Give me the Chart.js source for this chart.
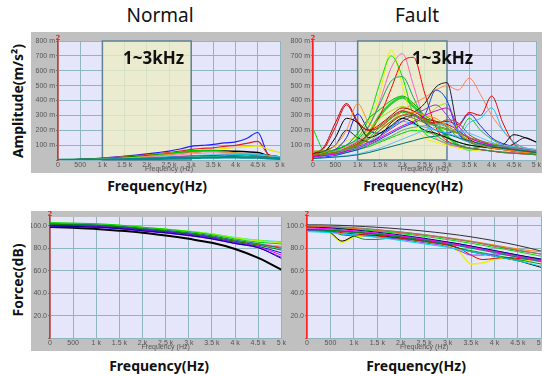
<!DOCTYPE html>
<html>
<head>
<meta charset="utf-8">
<script src="https://cdn.jsdelivr.net/npm/chart.js@4.4.0/dist/chart.umd.min.js"></script>
<style>
  html, body { margin: 0; padding: 0; background: #fff; width: 542px; height: 376px; overflow: hidden; position: relative; font-family: 'Noto Sans', sans-serif; }
  canvas { position: absolute; }
  .txt { position: absolute; white-space: nowrap; color: #111; line-height: 20px; }
  .title { font-size: 19px; transform: translateX(-50%); }
  .xlab { font-size: 14px; font-weight: bold; transform: translateX(-50%); }
  .ylab { font-size: 14px; font-weight: bold; transform: translate(-50%, -50%) rotate(-90deg); }
  .band { font-size: 17px; font-weight: bold; }
</style>
</head>
<body>
<canvas id="chartTL" width="256" height="141" style="left:31px;top:32px"></canvas>
<canvas id="chartTR" width="255" height="141" style="left:287px;top:32px"></canvas>
<canvas id="chartBL" width="256" height="140" style="left:31px;top:211px"></canvas>
<canvas id="chartBR" width="260" height="140" style="left:287px;top:211px"></canvas>

<div class="txt title" style="left:160px;top:5px">Normal</div>
<div class="txt title" style="left:417px;top:5px">Fault</div>
<div class="txt band" style="left:123px;top:48px">1~3kHz</div>
<div class="txt band" style="left:412px;top:48px">1~3kHz</div>
<div class="txt ylab" style="left:18px;top:101px">Amplitude(m/s²)</div>
<div class="txt ylab" style="left:18px;top:280px">Forcec(dB)</div>
<div class="txt xlab" style="left:157px;top:176px">Frequency(Hz)</div>
<div class="txt xlab" style="left:413px;top:176px">Frequency(Hz)</div>
<div class="txt xlab" style="left:159px;top:356px">Frequency(Hz)</div>
<div class="txt xlab" style="left:416px;top:356px">Frequency(Hz)</div>

<script>
/* EJES */
const xTickValues = [0, 500, 1000, 1500, 2000, 2500, 3000, 3500, 4000, 4500, 5000];
const xTickLabels = ['0', '500', '1 k', '1.5 k', '2 k', '2.5 k', '3 k', '3.5 k', '4 k', '4.5 k', '5 k'];
const ampTicks = [0, 100, 200, 300, 400, 500, 600, 700, 800];
const dbTicks = [0, 20, 40, 60, 80, 100];

// frecuencias de muestreo (Hz)
const freq250 = [0, 250, 500, 750, 1000, 1250, 1500, 1750, 2000, 2250, 2500, 2750, 3000, 3250, 3500, 3750, 4000, 4250, 4500, 4750, 5000];
const freq500 = [0, 500, 1000, 1500, 2000, 2500, 3000, 3500, 4000, 4500, 5000];

/* NORMAL - AMPLITUD (m/s2, en milesimas) */
const nBlue    = [0, 2, 4, 8, 13, 19, 26, 33, 41, 50, 60, 74, 92, 98, 105, 115, 122, 145, 185, 30, 18];
const nRed     = [0, 2, 4, 7, 11, 16, 22, 28, 35, 42, 50, 60, 72, 78, 82, 92, 98, 112, 125, 35, 22];
const nYellow  = [0, 1, 3, 6, 10, 14, 19, 25, 31, 38, 45, 52, 60, 66, 70, 78, 85, 90, 95, 70, 50];
const nBlack   = [0, 1, 3, 5, 8, 12, 17, 22, 28, 34, 40, 47, 55, 58, 60, 60, 58, 55, 50, 30, 20];
const nGreen   = [0, 1, 2, 4, 7, 10, 14, 19, 25, 32, 40, 50, 60, 62, 62, 55, 45, 38, 30, 22, 15];
const nOrange  = [0, 1, 2, 4, 6, 9, 13, 18, 24, 30, 37, 44, 50, 55, 56, 52, 48, 44, 40, 30, 22];
const nPink    = [0, 1, 2, 3, 5, 7, 10, 14, 19, 24, 30, 36, 42, 45, 48, 45, 42, 38, 35, 28, 20];
const nCyan    = [0, 1, 1, 2, 4, 6, 8, 11, 14, 18, 22, 26, 30, 32, 34, 35, 36, 36, 40, 30, 20];
const nMagenta = [0, 0, 1, 2, 3, 5, 7, 9, 12, 15, 18, 22, 26, 28, 30, 32, 30, 26, 24, 18, 12];
const nLime    = [0, 0, 1, 2, 3, 4, 6, 8, 10, 12, 15, 18, 20, 22, 24, 25, 24, 22, 20, 15, 10];
const nTeal    = [0, 0, 1, 1, 2, 3, 4, 5, 7, 9, 11, 13, 15, 16, 17, 18, 18, 17, 16, 12, 8];

/* FALLA - AMPLITUD */
const fYellow  = [60, 70, 90, 130, 160, 250, 450, 740, 500, 250, 150, 120, 100, 80, 70, 60, 60, 50, 50, 45, 40];
const fGreen   = [40, 50, 70, 100, 150, 280, 520, 700, 560, 300, 180, 140, 110, 90, 80, 70, 60, 55, 50, 45, 40];
const fPink    = [30, 40, 60, 90, 130, 220, 400, 620, 715, 500, 260, 150, 110, 90, 80, 70, 60, 50, 50, 45, 40];
const fRed     = [30, 40, 50, 80, 110, 180, 300, 480, 660, 690, 450, 220, 130, 100, 80, 70, 60, 50, 45, 40, 35];
const fSea     = [40, 50, 70, 100, 140, 230, 380, 530, 560, 420, 260, 170, 120, 100, 80, 70, 60, 50, 45, 40, 35];
const fSalmon  = [20, 30, 40, 60, 90, 140, 200, 260, 330, 380, 420, 470, 500, 470, 550, 440, 300, 200, 120, 80, 60];
const fBlack   = [40, 60, 100, 200, 150, 120, 160, 250, 300, 320, 380, 490, 520, 200, 130, 100, 90, 80, 110, 150, 120];
const fRed2    = [40, 80, 220, 370, 250, 200, 220, 280, 330, 300, 260, 250, 260, 240, 320, 300, 430, 250, 110, 70, 60];
const fCyan    = [20, 30, 40, 60, 80, 120, 180, 220, 260, 240, 220, 200, 180, 160, 250, 280, 350, 200, 120, 80, 60];
const fBlue    = [30, 40, 70, 150, 310, 200, 180, 220, 280, 300, 250, 200, 180, 220, 310, 230, 150, 110, 90, 70, 60];
const fLime2   = [50, 55, 60, 70, 100, 180, 300, 380, 420, 360, 280, 230, 160, 100, 70, 90, 100, 80, 60, 50, 40];
const fGreen2  = [40, 50, 70, 100, 180, 280, 340, 400, 430, 380, 300, 260, 230, 180, 130, 110, 90, 80, 70, 60, 50];
const fGreen3  = [30, 40, 50, 70, 100, 150, 220, 280, 320, 300, 260, 230, 200, 180, 280, 200, 140, 100, 80, 60, 50];
const fBlack2  = [20, 50, 150, 280, 250, 150, 180, 230, 280, 250, 200, 180, 150, 120, 100, 90, 80, 100, 170, 150, 120];
const fDarkRed = [40, 90, 250, 380, 260, 200, 240, 300, 350, 330, 280, 260, 240, 200, 140, 100, 80, 70, 60, 50, 40];
const fOrange  = [30, 50, 100, 200, 380, 250, 220, 260, 300, 320, 300, 280, 230, 180, 130, 100, 80, 70, 60, 50, 45];
const fPurple  = [20, 30, 40, 60, 90, 120, 160, 210, 260, 300, 340, 370, 300, 200, 150, 120, 100, 90, 80, 70, 60];
const fLime    = [30, 40, 60, 80, 120, 200, 280, 330, 360, 330, 280, 350, 380, 200, 120, 90, 80, 70, 60, 50, 40];
const fBlue2   = [10, 20, 30, 50, 70, 100, 140, 180, 220, 250, 300, 470, 400, 180, 120, 100, 90, 80, 70, 60, 50];
const fOlive   = [30, 40, 50, 70, 100, 140, 200, 260, 300, 280, 250, 230, 210, 180, 150, 130, 110, 100, 90, 80, 70];
const fBrown   = [30, 40, 50, 80, 120, 170, 230, 290, 330, 310, 270, 240, 270, 250, 170, 130, 100, 80, 70, 60, 50];
const fGray    = [60, 60, 60, 70, 80, 100, 130, 160, 200, 220, 230, 240, 220, 150, 120, 100, 90, 90, 80, 70, 60];
const fMagenta = [20, 30, 40, 60, 80, 110, 150, 190, 230, 260, 300, 330, 350, 230, 150, 120, 100, 90, 80, 70, 60];
const fSky     = [10, 15, 20, 30, 40, 60, 80, 110, 140, 170, 200, 220, 250, 200, 180, 150, 120, 100, 90, 80, 70];
const fSpike   = [210, 60, 40, 50, 70, 90, 120, 150, 180, 200, 190, 170, 150, 120, 100, 90, 80, 70, 60, 50, 45];
const fTeal    = [10, 15, 20, 25, 35, 50, 70, 90, 110, 130, 150, 160, 170, 150, 130, 110, 90, 80, 70, 60, 50];

/* NORMAL - FUERZA (dB) */
const bnCyan    = [102, 101.8, 101.3, 100.3, 98.6, 97.1, 95.3, 93, 89.7, 87.3, 86];
const bnYellow  = [102.5, 102.1, 101.5, 100.4, 98.7, 97.1, 95.1, 92.6, 89.2, 86.7, 85];
const bnLime    = [102.5, 102.2, 101.7, 100.6, 98.8, 97.3, 95.4, 93, 89.6, 87.1, 85.5];
const bnGreen   = [103, 102.6, 102, 100.8, 98.9, 97.2, 95, 92.2, 88.4, 85.5, 84];
const bnRed     = [101.5, 101.1, 100.5, 99.3, 97.4, 95.7, 93.5, 90.7, 86.8, 83.7, 81];
const bnPink    = [101, 100.7, 100.1, 99, 97.2, 95.6, 93.5, 90.8, 87, 84.1, 82];
const bnTeal    = [102, 101.6, 101, 99.8, 97.9, 96.2, 94, 91.2, 87.3, 84.2, 80];
const bnDkGreen = [101.5, 101.1, 100.5, 99.3, 97.3, 95.5, 93.2, 90.3, 86.3, 82.9, 78.5];
const bnBlue    = [100.5, 100.2, 99.6, 98.4, 96.5, 94.7, 92.4, 89.4, 85.3, 81.8, 76];
const bnMagenta = [100, 99.7, 99.1, 97.9, 96, 94.2, 91.9, 88.9, 84.8, 81.3, 74];
const bnPurple  = [99.5, 99.2, 98.6, 97.4, 95.4, 93.6, 91.3, 88.3, 84.2, 80.5, 72];
const bnNavy    = [100, 99.6, 99, 97.8, 95.8, 94, 91.6, 88.6, 84.4, 80.7, 71];
const bnOrange  = [101, 100.6, 100, 98.8, 96.9, 95.2, 93, 90.2, 86.3, 83.2, 80.5];
const bnBlack   = [99, 98.5, 97.3, 95.8, 94, 91.5, 88.5, 85, 79.5, 71.5, 61];

/* FALLA - FUERZA (dB) */
const bfBlack   = [101, 101, 100.8, 100.5, 100, 99.4, 98.8, 98.1, 97.3, 96.4, 95.4, 94.3, 93.1, 91.8, 90.3, 88.6, 86.8, 84.8, 82.6, 80.2, 77.5];
const bfYellow  = [97, 96, 93, 85.5, 90, 91, 90.5, 89.5, 88.5, 87.5, 86, 84.5, 82, 77, 66, 67, 70, 71, 70, 69, 68];
const bfBlack2  = [98, 97, 94, 86.5, 91, 92, 91.5, 90.5, 89.5, 88.5, 87, 85.5, 83.5, 80, 77, 75, 73, 71, 69, 66, 63];
const bfGreen   = [96, 95.5, 95, 92, 91, 88, 88, 89, 88.5, 87.5, 86, 84.5, 83, 80, 78, 76, 74, 72, 70, 68, 66];
const bfRed     = [100, 99.7, 99.2, 98.5, 97.8, 97, 96, 95, 94, 93, 91.8, 90.5, 89, 87.5, 86, 84, 82, 80, 78, 76.5, 75];
const bfRed2    = [97, 96.5, 95.5, 94, 93, 92, 91, 90, 89, 88, 86.5, 85, 83, 80, 74, 70, 71, 72, 71, 70, 69];
const bfPurple  = [96, 95.5, 95, 93, 92, 91, 90, 89, 88, 86.5, 85, 83.5, 81.5, 78, 74, 74, 75, 74, 72, 70, 68];
const bfCyan    = [95, 94.5, 94, 93, 92, 91, 90, 88.5, 87, 85.5, 84, 82.5, 81, 79, 77, 75, 73, 71, 69, 66.5, 64];
const bfBlue    = [98, 97.5, 97, 96, 95, 94, 93, 92, 91, 89.8, 88.5, 87, 85.5, 84, 82, 80, 78, 76, 74, 72, 70];
const bfLime    = [99, 98.8, 98.3, 97.7, 97, 96.2, 95.3, 94.3, 93.2, 92, 90.7, 89.3, 87.8, 86.2, 84.5, 82.7, 80.8, 79, 77, 75, 73];
const bfOrange  = [99.5, 99.3, 99, 98.5, 98, 97.3, 96.5, 95.6, 94.6, 93.5, 92.3, 91, 89.6, 88.1, 86.5, 84.8, 83, 81.2, 79.5, 78, 77];
const bfDkGreen = [97, 96.7, 96.2, 95.5, 94.7, 93.8, 92.8, 91.7, 90.5, 89.2, 87.8, 86.3, 84.7, 83, 81.2, 79.3, 77.3, 75.3, 73.3, 71.3, 69.5];
const bfMagenta = [98.5, 98, 97.4, 96.6, 95.7, 94.7, 93.6, 92.4, 91.1, 89.7, 88.2, 86.6, 84.9, 83.1, 81.2, 79.2, 77.1, 75, 73, 71, 69];
const bfGreen2  = [97.5, 97, 96.5, 95, 94, 93.5, 92.5, 91.5, 90.3, 89, 87.6, 86, 84.3, 82.5, 80.6, 78.6, 76.6, 74.6, 72.6, 70.6, 68.6];
const bfGray    = [100.5, 100.2, 99.8, 99.2, 98.5, 97.7, 96.8, 95.8, 94.7, 93.5, 92.2, 90.8, 89.3, 87.7, 86, 84.2, 82.3, 80.4, 78.5, 76.6, 74.8];
const bfTeal    = [96.5, 96.2, 95.8, 95, 94.2, 93.3, 92.3, 91.2, 90, 88.7, 87.2, 85.6, 83.9, 82.1, 80.2, 78.2, 76.2, 74.2, 72.2, 70.3, 68.5];
const bfNavy    = [99, 98.7, 98.2, 97.4, 96.5, 95.5, 94.4, 93.2, 91.9, 90.5, 89, 87.4, 85.7, 83.9, 82, 80, 78, 76, 74, 72.2, 70.5];
const bfPink    = [98, 97.6, 97, 96.2, 95.3, 94.3, 93.2, 92, 90.7, 89.3, 87.8, 86.2, 84.5, 82.7, 80.8, 78.8, 76.8, 74.8, 72.8, 71, 69.5];

/* PLUGIN: fondo gris, area lila, banda 1~3kHz y marcador rojo */
const panelPlugin = {
  id: 'panel',
  beforeDraw(chart) {
    const c = chart.ctx, a = chart.chartArea;
    c.save();
    c.fillStyle = '#c0c0c0';
    c.fillRect(0, 0, chart.width, chart.height);
    c.fillStyle = '#e6e6fa';
    c.fillRect(a.left, a.top, a.right - a.left, a.bottom - a.top);
    c.restore();
  },
  beforeDatasetsDraw(chart, args, opts) {
    if (!opts.band) return;
    const c = chart.ctx, a = chart.chartArea, x = chart.scales.x;
    const x1 = x.getPixelForValue(1000), x2 = x.getPixelForValue(3000);
    c.save();
    c.globalAlpha = 0.8;
    c.fillStyle = '#ececc4';
    c.fillRect(x1, a.top, x2 - x1, a.bottom - a.top);
    c.globalAlpha = 1;
    c.strokeStyle = '#5f8296';
    c.lineWidth = 1.5;
    c.strokeRect(x1, a.top, x2 - x1, a.bottom - a.top);
    c.restore();
  },
  afterDraw(chart) {
    const c = chart.ctx, a = chart.chartArea;
    c.save();
    c.fillStyle = '#ff2020';
    c.font = 'bold 7px "DejaVu Sans"';
    c.textAlign = 'center';
    c.fillText('2', a.left, a.top - 1);
    c.restore();
  },
};

function buildDatasets(freq, series, tension) {
  return series.map(function (s) {
    return {
      data: freq.map(function (f, i) { return { x: f, y: s[0][i] }; }),
      borderColor: s[1],
      borderWidth: s[2] || 1,
      pointRadius: 0,
      cubicInterpolationMode: 'monotone',
      tension: tension,
      fill: false,
    };
  });
}

function makePanel(id, cfg) {
  const ctx = document.getElementById(id).getContext('2d');
  return new Chart(ctx, {
    type: 'line',
    data: { datasets: cfg.datasets },
    options: {
      responsive: false,
      animation: false,
      events: [],
      layout: { autoPadding: false, padding: { top: cfg.padTop, right: cfg.padRight, bottom: 0, left: 0 } },
      plugins: {
        legend: { display: false },
        tooltip: { enabled: false },
        panel: { band: cfg.band },
      },
      scales: {
        x: {
          type: 'linear',
          min: 0,
          max: 5000,
          afterFit: function (s) { s.height = 13; },
          afterBuildTicks: function (s) { s.ticks = xTickValues.map(function (v) { return { value: v }; }); },
          ticks: {
            autoSkip: false,
            maxRotation: 0,
            padding: 1,
            color: '#555',
            font: { size: 7, family: 'Liberation Sans' },
            callback: function (v, i) { return xTickLabels[i]; },
          },
          grid: { color: '#8db6c0', drawTicks: false },
          border: { color: '#8db6c0' },
          title: { display: true, text: 'Frequency (Hz)', color: '#555', font: { size: 7, family: 'Liberation Sans' }, padding: 0 },
        },
        y: {
          min: 0,
          max: cfg.yMax,
          afterFit: function (s) { s.width = cfg.yWidth; },
          afterBuildTicks: function (s) { s.ticks = cfg.yTicks.map(function (v) { return { value: v }; }); },
          ticks: {
            padding: 1,
            color: '#555',
            font: { size: 7, family: 'Liberation Sans' },
            callback: function (v) { return v === 0 ? '' : cfg.fmt(v); },
          },
          grid: { color: '#8db6c0', tickLength: 2, tickColor: '#777' },
          border: { color: '#ff2020', width: 1.5 },
        },
      },
    },
    plugins: [panelPlugin],
  });
}

/* GRAFICA 1: NORMAL AMPLITUD */
makePanel('chartTL', {
  padTop: 9, padRight: 7, yWidth: 27, yMax: 800, yTicks: ampTicks, band: true,
  fmt: function (v) { return v + ' m'; },
  datasets: buildDatasets(freq250, [
    [nTeal, '#008c8c', 2.5], [nLime, '#60ff60'], [nMagenta, '#c000c0'], [nCyan, '#00c8e0'],
    [nPink, '#ff80c0'], [nOrange, '#ff9040'], [nGreen, '#00c800', 2], [nBlack, '#000000', 1.5],
    [nYellow, '#e8e800', 1.2], [nRed, '#e02020', 1.2], [nBlue, '#2020ff', 1.2],
  ], 0.4),
});

/* GRAFICA 2: FALLA AMPLITUD */
makePanel('chartTR', {
  padTop: 9, padRight: 3, yWidth: 26, yMax: 800, yTicks: ampTicks, band: true,
  fmt: function (v) { return v + ' m'; },
  datasets: buildDatasets(freq250, [
    [fTeal, '#007070'], [fSky, '#60c0ff'], [fGray, '#60a080'], [fOlive, '#808000'],
    [fMagenta, '#e000e0'], [fPurple, '#8040c0'], [fBrown, '#a05020'], [fOrange, '#ff9020'],
    [fDarkRed, '#c00000'], [fBlack2, '#000000'], [fGreen2, '#00b000'], [fGreen3, '#20c020'],
    [fBlue2, '#0040ff'], [fLime, '#a0e000'], [fCyan, '#20c0ff'], [fBlue, '#2020e0'],
    [fRed2, '#e00000'], [fBlack, '#202020'], [fSalmon, '#ff8050'], [fSea, '#20a060'],
    [fRed, '#ff0000'], [fPink, '#ff60c0'], [fGreen, '#00e000'], [fYellow, '#f0f000'],
    [fSpike, '#00d000'], [fLime2, '#30d030', 2.5],
  ], 0.4),
});

/* GRAFICA 3: NORMAL FUERZA */
makePanel('chartBL', {
  padTop: 6, padRight: 3, yWidth: 19, yMax: 108, yTicks: dbTicks, band: false,
  fmt: function (v) { return v.toFixed(1); },
  datasets: buildDatasets(freq500, [
    [bnNavy, '#000090'], [bnPurple, '#8000ff'], [bnMagenta, '#ff00ff'], [bnBlue, '#0000ff'],
    [bnDkGreen, '#008000'], [bnTeal, '#008080'], [bnOrange, '#ff8000'], [bnPink, '#ff80c0'],
    [bnRed, '#ff0000'], [bnGreen, '#00d000'], [bnLime, '#80ff00'], [bnYellow, '#e8e800'],
    [bnCyan, '#00e0ff'], [bnBlack, '#000000', 2],
  ], 0.4),
});

/* GRAFICA 4: FALLA FUERZA */
makePanel('chartBR', {
  padTop: 6, padRight: 3, yWidth: 20, yMax: 108, yTicks: dbTicks, band: false,
  fmt: function (v) { return v.toFixed(1); },
  datasets: buildDatasets(freq250, [
    [bfGray, '#808080'], [bfMagenta, '#ff00ff'], [bfDkGreen, '#008000'], [bfTeal, '#008080'],
    [bfNavy, '#000080'], [bfPink, '#ff80c0'], [bfGreen2, '#40e000'], [bfBlue, '#0000ff'],
    [bfCyan, '#00d8ff'], [bfPurple, '#8040ff'], [bfRed2, '#e00000'], [bfOrange, '#ff8000'],
    [bfLime, '#00e000'], [bfRed, '#ff2020'], [bfGreen, '#00a000'], [bfBlack2, '#000000'],
    [bfYellow, '#f0f000', 1.5], [bfBlack, '#303030'],
  ], 0.4),
});
</script>
</body>
</html>
